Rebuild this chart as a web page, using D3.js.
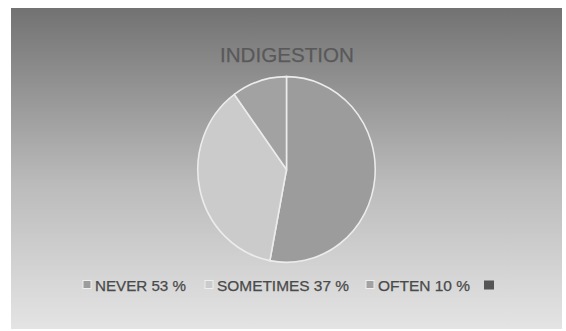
<!DOCTYPE html>
<html>
<head>
<meta charset="utf-8">
<script src="https://cdn.jsdelivr.net/npm/d3@7"></script>
<style>
  html, body { margin: 0; padding: 0; background: #ffffff; }
  svg { display: block; }
</style>
</head>
<body>
<svg id="chart" width="566" height="331"></svg>
<script>
// Survey answers for "INDIGESTION"
const categories = ["NEVER", "SOMETIMES", "OFTEN", ""];
const values = [53, 37, 10, 0];
const legendLabels = ["NEVER 53 %", "SOMETIMES 37 %", "OFTEN 10 %", ""];
const sliceColors = ["#9c9c9c", "#cbcbcb", "#a2a2a2", "#555555"];

const svg = d3.select("#chart");

// chart panel with a vertical grey gradient
const defs = svg.append("defs");
const grad = defs.append("linearGradient")
  .attr("id", "bg").attr("x1", 0).attr("y1", 0).attr("x2", 0).attr("y2", 1);
grad.append("stop").attr("offset", "0%").attr("stop-color", "#727272");
grad.append("stop").attr("offset", "55%").attr("stop-color", "#bbbbbb");
grad.append("stop").attr("offset", "100%").attr("stop-color", "#e4e4e4");

svg.append("rect")
  .attr("x", 11).attr("y", 8).attr("width", 551).attr("height", 321)
  .attr("fill", "url(#bg)");

const fontFamily = "'Liberation Sans Narrow', 'Liberation Sans', Arial, sans-serif";

// title
svg.append("text")
  .attr("x", 287).attr("y", 62)
  .attr("text-anchor", "middle")
  .attr("font-family", fontFamily)
  .attr("font-size", 21)
  .attr("textLength", 134)
  .attr("lengthAdjust", "spacingAndGlyphs")
  .attr("fill", "#595959")
  .attr("stroke", "#595959")
  .attr("stroke-width", 0.25)
  .text("INDIGESTION");

// pie
const pie = d3.pie().sort(null).value(d => d.v);
const arc = d3.arc().innerRadius(0).outerRadius(91);
const data = categories.map((c, i) => ({ c, v: values[i], i }));

const g = svg.append("g")
  .attr("transform", "translate(286.5,169.5) scale(0.975,1.02)");

g.selectAll("path")
  .data(pie(data).filter(d => d.data.v > 0))
  .join("path")
  .attr("d", arc)
  .attr("fill", d => sliceColors[d.data.i])
  .attr("stroke", "#ececec")
  .attr("stroke-width", 1.6);

// legend
const legendItems = [
  { sx: 83, tx: 95, w: 91 },
  { sx: 205, tx: 217, w: 132 },
  { sx: 366, tx: 378, w: 92 },
  { sx: 484, tx: 496, w: 0 }
];
const legendY = 285;
const lg = svg.append("g");
legendItems.forEach((it, i) => {
  lg.append("rect")
    .attr("x", it.sx).attr("y", legendY - 4.5)
    .attr("width", i === 3 ? 10 : 8).attr("height", i === 3 ? 9 : 8)
    .attr("fill", sliceColors[i])
    .attr("stroke", i === 3 ? "none" : "#eeeeee")
    .attr("stroke-width", 1);
  if (legendLabels[i]) {
    lg.append("text")
      .attr("x", it.tx).attr("y", legendY + 5.5)
      .attr("font-family", fontFamily)
      .attr("font-size", 14.5)
      .attr("textLength", it.w)
      .attr("lengthAdjust", "spacingAndGlyphs")
      .attr("fill", "#4a4a4a")
      .attr("stroke", "#4a4a4a")
      .attr("stroke-width", 0.25)
      .text(legendLabels[i]);
  }
});
</script>
</body>
</html>
